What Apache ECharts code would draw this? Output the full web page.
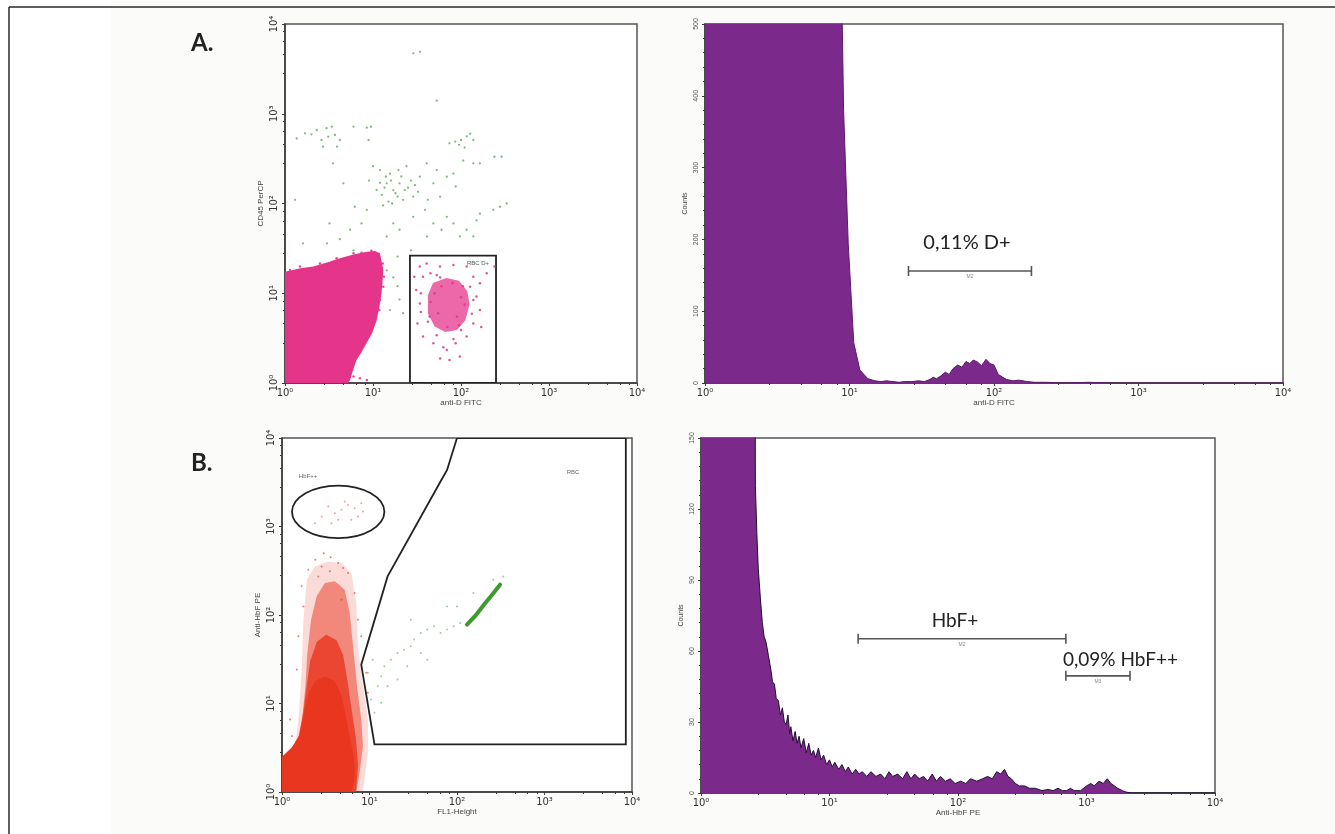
<!DOCTYPE html>
<html><head><meta charset="utf-8">
<script src="https://cdn.jsdelivr.net/npm/echarts@6/dist/echarts.min.js"></script>
<style>html,body{margin:0;padding:0;background:#fff}#c{width:1335px;height:834px}</style>
</head><body><div id="c"></div>
<script>
// ---------- tick labels ----------
const decadeLabels = ['10\u2070','10\u00b9','10\u00b2','10\u00b3','10\u2074'];

// ---------- Panel A scatter (anti-D FITC vs CD45 PerCP) ----------
const scatA_pinkBlob = [[1,1],[1,17.4],[1.5,19],[2.1,19.8],[3,22],[4.2,24.5],[6,27],[8.5,29],[10.5,29.5],[12,27.9],[13.1,18.2],[12.8,13],[12.5,10],[11.8,7],[11,5],[9.8,3.6],[8.5,2.8],[7.4,2.2],[6.5,1.8],[5.8,1.3],[5.5,1.08],[5.2,1]];
const scatA_pinkEdge = [[1.14,18.2],[1.48,19.8],[2.5,21.5],[3.86,24.5],[6.0,27.9],[7.4,28.3],[9.6,29.8],[11.5,26.6],[12.9,21.5],[13.3,15.3],[13.1,11.8],[12,8.4],[11.8,6.5],[10.5,5.0],[9.2,3.9],[8.1,3.0],[7.1,2.54],[6.5,1.97],[5.7,1.66],[5,1.28],[6,1.18],[7.1,1.13],[4.2,1.06],[8.5,1.08]];
const scatA_gateCore = [[48,13],[68,14.8],[95,13.8],[118,10.5],[125,7.5],[112,5],[90,3.9],[66,3.7],[50,4.3],[42,6],[42,9.5]];
const scatA_gateDots = [[34,19.8],[40.7,21.5],[57.7,19.8],[82,20.7],[116,19.8],[138,15.3],[164,12.9],[150,9.2],[164,6.5],[138,4.6],[116,3.3],[87,2.77],[69,2.33],[58,1.88],[74,1.8],[97,1.97],[48.5,2.77],[37,3.3],[32,4.6],[34,7.7],[31,10.9],[29.5,15.3],[37,15.3],[45,16.7],[53,16],[127,11.8],[138,8.4],[133,5.9],[100,3.9],[53,3.4],[42,4.8],[35,6.2],[35,10],[63,2.5],[82,3.1],[45,8],[55,6],[90,5.5],[100,9],[60,12],[80,13],[50,10],[110,7.5],[70,4.2],[95,4.4],[44,5.5],[58,15],[105,12],[196,16.7],[240,19.8],[170,4.2]];
const scatA_green = [[28.7,4710],[34.2,4900],[53,1400],
 [1.36,530],[1.69,605],[2,590],[2.3,659],[2.6,510],[2.97,690],[3.4,718],[3.7,580],[4.2,510],[2.7,430],[3.9,430],[3.1,556],[6,718],[8.5,700],[9.5,718],[8.9,510],
 [74,468],[86,490],[100,510],[116,560],[127,600],[110,420],[95,450],[138,510],[164,280],[240,332],[290,332],
 [11,141],[12.6,125],[14.3,168],[15.6,215],[17,141],[19,119],[15,105],[13,95],[20,168],[23,141],[27,180],[28.7,119],[32.5,135],[39,85],[42,110],[48.5,168],[40.7,280],[34,199],[24,260],[19.5,236],[10,260],[9,180],[12,236],[4.6,168],[6.2,92],[7.4,60],[8.5,85],[5.5,51],[4.2,40],[3.2,60],[3,36],[1.6,36],[6,30],[17,60],[20,51],[28.7,71],[48.5,60],[60,51],[69,71],[82,60],[97,43],[116,51],[138,43],[150,65],[164,77],[233,85],[277,92],[330,100],[53,236],[69,199],[82,215],[106,300],[87,155],[58,119],[41,43],[27,30],[19,25.6],[14.3,43],[138,280],[3.5,280],[1.3,110],
 [13.5,150],[16,180],[18,130],[14,200],[21,200],[25,150],[30,160],[22,110],[16.5,100],[12,170],
 [14.3,18],[17,15],[19,12],[20,8.5],[15.6,6.5],[22,6]];
const scatA_gate = [[26.3,1],[26.3,26.2],[250,26.2],[250,1]];

// ---------- Panel A histogram ----------
const histA_x = [1,1.3,1.7,2.2,3,4,5,6,7,8,8.7,9.1,9.8,10.7,11.8,13.4,15,16.5,18,20,22,24,27,30,33,36,38,40,43,46,49,52,56,60,64,68,72,77,82,88,94,100,107,115,122,135,148,170,190,230,300,450,700,1200,2500,5000,10000];
const histA_counts = [900,900,900,900,900,900,900,900,900,900,640,380,194,56,18,6,3,2,3,2,1,2,2,3,2,5,8,6,10,15,12,20,25,22,30,27,32,29,24,33,27,25,12,8,5,3,4,2,1,1,0,1,0,0,0,0,0];
const histA_markers = [[25.6,181.6,156]];
const histA_markerNames = ['M2'];

// ---------- Panel B scatter (FL1-Height vs Anti-HbF PE) ----------
const scatB_light = [[1,1],[1.30,1.8],[1.54,6.6],[1.68,24.2],[1.76,88.6],[1.92,250],[2.38,354],[3.38,403],[4.78,386],[6.2,298],[7.06,137],[7.38,44.4],[8.41,15.7],[9.57,6.6],[9.57,2.78],[8.41,1]];
const scatB_mid = [[1,1],[1,1.65],[1.42,2.78],[1.7,6.6],[1.85,15.7],[1.95,37.3],[2.15,88.6],[2.49,163],[3.09,230],[4.02,240],[5.21,193],[5.94,105],[6.6,37.3],[7.2,15.7],[8.05,6.6],[8.41,3.3],[7.71,1.65],[7.06,1]];
const scatB_dense = [[1,1],[1,2.2],[1.5,3.5],[1.75,8],[1.9,15],[2.1,30],[2.5,50],[3.2,60],[4.2,52],[5.0,35],[5.6,18],[6.2,9],[7.0,4],[7.4,2],[7.0,1]];
const scatB_solid = [[1,1],[1,2.5],[1.3,3.2],[1.6,4.5],[1.8,8],[2.0,13],[2.4,18],[3.1,20],[4.0,18],[4.8,12],[5.4,7],[6.0,4],[6.6,2.5],[6.8,1.5],[6.2,1]];
const scatB_redDots = [[2.0,325],[2.84,354],[4.38,386],[5.69,298],[1.68,211],[6.76,177],[2.6,273],[3.52,312],[4.78,149],[7.38,88.6],[1.76,125],[8.05,57.4],[1.54,57.4],[1.48,24.2],[9.17,22.2],[9.57,13.2],[1.24,6.6],[1.3,4.28],[3.0,500],[3.6,450],[2.4,420],[5.0,340]];
const scatB_hbfpp = [[3.38,1682],[4.02,1413],[4.78,1542],[5.69,1755],[6.76,1610],[7.38,1297],[4.38,1189],[3.68,1091],[6.2,1190],[5.21,1915],[8.05,1833],[2.84,1300],[2.38,1090],[8.41,1476]];
const scatB_green = [[11.4,7.85],[10.4,11.1],[12.4,15.7],[13.6,20.3],[9.57,22.2],[10.9,31.3],[14.8,26.4],[17.6,31.3],[20.9,37.3],[24.9,40.6],[29.6,44.4],[32.3,52.7],[38.5,62.7],[45.7,68.4],[54.4,74.6],[64.8,62.7],[77,68.4],[91.6,74.6],[109,81.3],[29.6,88.6],[45.7,31.3],[16.1,15.7],[13.6,10.2],[20.9,18.7],[38.5,37.3],[27,26.4],[77,125],[100,125],[154,177],[260,250],[337,273]];
const scatB_streak = [[130,78],[165,100],[205,132],[255,172],[310,220]];
const scatB_gate = [[11.4,3.45],[8.05,27.5],[16.1,273],[64.8,3220],[77,4355],[100,10000],[8500,10000],[8500,3.45]];
const scatB_ellipseX = [1.3,14.8];
const scatB_ellipseY = [739,2900];

// ---------- Panel B histogram ----------
const histB_x = [1,1.3,1.7,2.1,2.4,2.59,2.65,2.72,2.79,2.9,3.0,3.1,3.2,3.35,3.5,3.6,3.73,3.85,4.0,4.15,4.3,4.45,4.6,4.75,4.9,5.0,5.2,5.4,5.6,5.8,6.0,6.3,6.6,6.9,7.2,7.5,7.8,8.2,8.6,9.0,9.5,10,10.5,11,11.8,12.5,13.3,14,15,16,17,18,19.5,21,23,25,27,29,31,34,37,40,43,46,50,54,58,63,68,73,80,87,95,105,115,125,140,155,170,185,200,215,230,245,260,280,300,330,360,400,450,500,550,600,650,700,750,800,900,950,1000,1080,1150,1250,1350,1450,1550,1650,1750,1900,2000,2200,10000];
const histB_counts = [400,400,400,400,400,400,130,110,95,82,72,66,64,58,52,47,46,40,39,33,36,30,29,33,25,28,22,26,21,24,19,23,17,21,16,18,15,19,14,16,12,14,11,13,10,12,9,11,8,10,8,9,7,9,7,8,6,9,7,8,6,9,6,8,6,7,5,8,5,7,5,6,4,5,4,6,5,6,7,6,9,8,10,7,6,4,3,3,2,2,1,1.5,1,2,1,1,2,1,1,2,3,4,3,5,4,6,4,3,2,1,0.5,0,0];
const histB_markers = [[16.7,691,65.2],[691,2180,49.5]];
const histB_markerNames = ['M2','M3'];

// ---------- helpers ----------
const axisColor = '#3a3a3a';
function logAxis(gi, name, isY, gap) {
  return {
    type:'log', logBase:10, gridIndex:gi, min:1, max:10000,
    name:name, nameLocation:'middle', nameGap:gap,
    nameTextStyle:{fontSize:8, color:'#444', fontFamily:'Liberation Sans'},
    axisLine:{show:true, lineStyle:{color:axisColor, width:1.5}},
    axisTick:{show:true, length:3, lineStyle:{color:axisColor}},
    minorTick:{show:true, splitNumber:5, length:2, lineStyle:{color:axisColor}},
    splitLine:{show:false}, minorSplitLine:{show:false},
    axisLabel:{formatter:v=>decadeLabels[Math.round(Math.log10(v))]||'', fontSize:10, color:'#333',
      fontFamily:'DejaVu Sans', margin:isY?6:5, rotate:isY?90:0}
  };
}
function valAxis(gi, name, max, interval, gap) {
  return {
    type:'value', gridIndex:gi, min:0, max:max, interval:interval,
    name:name, nameLocation:'middle', nameGap:gap,
    nameTextStyle:{fontSize:7, color:'#444', fontFamily:'Liberation Sans'},
    axisLine:{show:true, lineStyle:{color:axisColor, width:1.5}},
    axisTick:{show:true, length:3, lineStyle:{color:axisColor}},
    minorTick:{show:true, splitNumber:5, length:2, lineStyle:{color:axisColor}},
    splitLine:{show:false},
    axisLabel:{fontSize:7, color:'#555', fontFamily:'Liberation Sans', margin:5, rotate:90}
  };
}
function polySeries(ai, pts, style) {
  return {type:'custom', xAxisIndex:ai, yAxisIndex:ai, clip:true, silent:true, data:pts, encode:{x:0,y:1}, z:2,
    renderItem:function(params, api){
      if (params.dataIndex !== 0) return null;
      const ps = pts.map(p=>api.coord(p));
      return {type:'polygon', shape:{points:ps}, style:style};
    }};
}
function dotSeries(ai, pts, color, size, opacity) {
  return {type:'scatter', xAxisIndex:ai, yAxisIndex:ai, data:pts, symbolSize:size, silent:true, z:3,
    itemStyle:{color:color, opacity:opacity}};
}
function markerSeries(ai, bars, names) {
  return {type:'custom', xAxisIndex:ai, yAxisIndex:ai, clip:false, silent:true, data:bars, encode:{x:[0,1], y:2}, z:5,
    renderItem:function(params, api){
      const b = bars[params.dataIndex];
      const a = api.coord([b[0], b[2]]), c = api.coord([b[1], b[2]]);
      const st = {stroke:'#555', lineWidth:1.6};
      return {type:'group', children:[
        {type:'line', shape:{x1:a[0], y1:a[1], x2:c[0], y2:c[1]}, style:st},
        {type:'line', shape:{x1:a[0], y1:a[1]-5, x2:a[0], y2:a[1]+5}, style:st},
        {type:'line', shape:{x1:c[0], y1:c[1]-5, x2:c[0], y2:c[1]+5}, style:st},
        {type:'text', style:{text:names[params.dataIndex], x:(a[0]+c[0])/2, y:a[1]+3, align:'center', verticalAlign:'top',
          fontSize:5, fill:'#888', fontFamily:'Liberation Sans'}}
      ]};
    }};
}
function histSeries(ai, xs, cs, fill, stroke) {
  return {type:'line', xAxisIndex:ai, yAxisIndex:ai, data:xs.map((x,i)=>[x, cs[i]]), symbol:'none', clip:true, silent:true, z:2,
    lineStyle:{color:stroke, width:1}, areaStyle:{color:fill, opacity:1}};
}

const chart = echarts.init(document.getElementById('c'), null, {renderer:'canvas'});
const grids = [
  {left:285, top:24, width:352, height:359},
  {left:705, top:24, width:578, height:359},
  {left:282, top:438, width:350, height:354},
  {left:701, top:438, width:514, height:355}
].map(g=>Object.assign(g, {show:true, borderColor:'#555', borderWidth:1.5, backgroundColor:'#ffffff'}));

const option = {
  animation:false,
  backgroundColor:'#ffffff',
  grid: grids,
  xAxis:[
    logAxis(0, 'anti-D FITC', false, 14),
    logAxis(1, 'anti-D FITC', false, 14),
    logAxis(2, 'FL1-Height', false, 14),
    logAxis(3, 'Anti-HbF PE', false, 14)
  ],
  yAxis:[
    logAxis(0, 'CD45 PerCP', true, 20),
    valAxis(1, 'Counts', 500, 100, 16),
    logAxis(2, 'Anti-HbF PE', true, 20),
    valAxis(3, 'Counts', 150, 30, 16)
  ],
  series:[
    // A scatter
    dotSeries(0, scatA_green, '#4a9c4a', 2.3, 0.7),
    polySeries(0, scatA_pinkBlob, {fill:'#e5358b'}),
    dotSeries(0, scatA_pinkEdge, '#e5358b', 2.5, 0.9),
    polySeries(0, scatA_gateCore, {fill:'#e5358b', opacity:0.75}),
    dotSeries(0, scatA_gateDots, '#d93a86', 2.5, 0.85),
    polySeries(0, scatA_gate, {fill:'none', stroke:'#222', lineWidth:1.8}),
    // A histogram
    histSeries(1, histA_x, histA_counts, '#7b2a8c', '#5a1a68'),
    markerSeries(1, histA_markers, histA_markerNames),
    // B scatter
    polySeries(2, scatB_light, {fill:'#e8361f', opacity:0.18}),
    polySeries(2, scatB_mid, {fill:'#e8361f', opacity:0.5}),
    polySeries(2, scatB_dense, {fill:'#e8361f', opacity:0.8}),
    polySeries(2, scatB_solid, {fill:'#e8361f', opacity:1}),
    dotSeries(2, scatB_redDots, '#e04a30', 2, 0.7),
    dotSeries(2, scatB_hbfpp, '#d86a5a', 2, 0.6),
    dotSeries(2, scatB_green, '#6cbb6c', 2, 0.7),
    {type:'line', xAxisIndex:2, yAxisIndex:2, data:scatB_streak, symbol:'none', silent:true, z:3,
      lineStyle:{color:'#3d9a2c', width:4, cap:'round'}},
    {type:'custom', xAxisIndex:2, yAxisIndex:2, silent:true, clip:false, z:4,
      data:[[scatB_ellipseX[0], scatB_ellipseY[0]],[scatB_ellipseX[1], scatB_ellipseY[1]]], encode:{x:0,y:1},
      renderItem:function(params, api){
        if (params.dataIndex !== 0) return null;
        const p1 = api.coord([scatB_ellipseX[0], scatB_ellipseY[0]]);
        const p2 = api.coord([scatB_ellipseX[1], scatB_ellipseY[1]]);
        return {type:'ellipse', shape:{cx:(p1[0]+p2[0])/2, cy:(p1[1]+p2[1])/2, rx:Math.abs(p2[0]-p1[0])/2, ry:Math.abs(p2[1]-p1[1])/2},
          style:{fill:'none', stroke:'#222', lineWidth:1.8}};
      }},
    polySeries(2, scatB_gate, {fill:'none', stroke:'#222', lineWidth:1.8}),
    // B histogram
    histSeries(3, histB_x, histB_counts, '#7b2a8c', '#22102e'),
    markerSeries(3, histB_markers, histB_markerNames)
  ],
  graphic:[
    {type:'rect', shape:{x:111, y:0, width:1224, height:834}, style:{fill:'#fbfbf9'}, z:-10, silent:true},
    {type:'line', shape:{x1:9, y1:7, x2:1335, y2:7}, style:{stroke:'#2a2a2a', lineWidth:1.5}, z:10},
    {type:'line', shape:{x1:9, y1:7, x2:9, y2:834}, style:{stroke:'#2a2a2a', lineWidth:1.5}, z:10},
    {type:'text', left:191, top:31, style:{text:'A.', font:'bold 24px Lato', fill:'#222'}, z:10},
    {type:'text', left:191, top:451, style:{text:'B.', font:'bold 24px Lato', fill:'#222'}, z:10},
    {type:'text', x:967, y:243, style:{text:'0,11% D+', font:'20px Lato', fill:'#222', align:'center', verticalAlign:'middle'}, z:10},
    {type:'text', x:955, y:621, style:{text:'HbF+', font:'19px Lato', fill:'#222', align:'center', verticalAlign:'middle'}, z:10},
    {type:'text', x:1063, y:660, style:{text:'0,09% HbF++', font:'19px Lato', fill:'#222', align:'left', verticalAlign:'middle'}, z:10},
    {type:'text', x:478, y:263, style:{text:'RBC D+', font:'6px Liberation Sans', fill:'#555', align:'center', verticalAlign:'middle'}, z:10},
    {type:'text', x:308, y:476, style:{text:'HbF++', font:'6px Liberation Sans', fill:'#666', align:'center', verticalAlign:'middle'}, z:10},
    {type:'text', x:573, y:472, style:{text:'RBC', font:'6px Liberation Sans', fill:'#666', align:'center', verticalAlign:'middle'}, z:10}
  ]
};
chart.setOption(option);
</script></body></html>
